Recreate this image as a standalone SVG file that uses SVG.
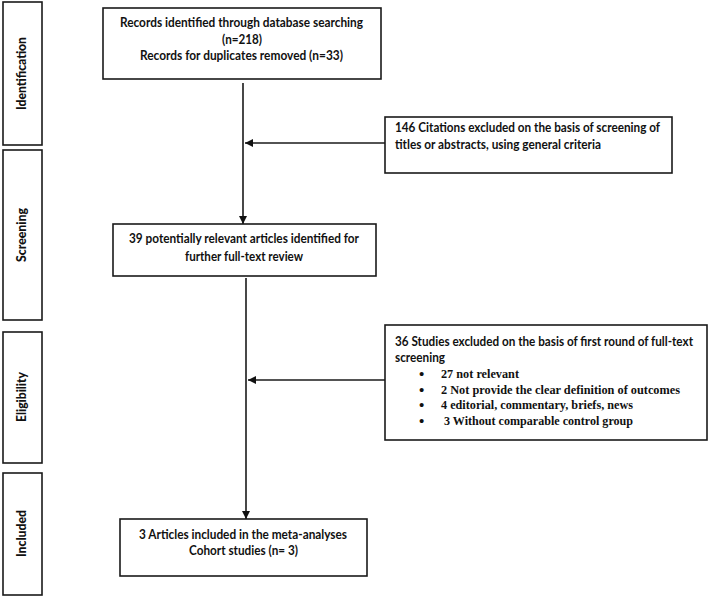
<svg xmlns="http://www.w3.org/2000/svg" width="709" height="597" viewBox="0 0 709 597">
<defs>
<style>
.box{fill:#fff;stroke:#1a1a1a;stroke-width:1.6}
.t{font-family:Lato,"Liberation Sans",sans-serif;font-weight:bold;font-size:12.3px;fill:#111}
.s{font-family:"Liberation Serif","Times New Roman",serif;font-weight:bold;font-size:12.5px;fill:#111}
.b{font-family:"Liberation Serif","Times New Roman",serif;font-weight:bold;font-size:15px;fill:#111}
.side{font-family:Lato,"Liberation Sans",sans-serif;font-weight:900;font-size:12.5px;fill:#111;text-anchor:middle}
.ln{fill:none;stroke:#1a1a1a;stroke-width:1.6}
</style>
<marker id="ah" viewBox="0 0 10 10" refX="10" refY="5" markerWidth="9" markerHeight="8" markerUnits="userSpaceOnUse" orient="auto"><path d="M0,0L10,5L0,10z" fill="#111"/></marker>
</defs>
<rect width="709" height="597" fill="#fff"/>
<g id="phase-identification"><rect class="box" x="3" y="2" width="39" height="143"/><text class="side" transform="translate(26,73.5) rotate(-90)" textLength="73" lengthAdjust="spacingAndGlyphs">Identification</text></g>
<g id="phase-screening"><rect class="box" x="3" y="150" width="39" height="170"/><text class="side" transform="translate(26,235) rotate(-90)" textLength="54" lengthAdjust="spacingAndGlyphs">Screening</text></g>
<g id="phase-eligibility"><rect class="box" x="3" y="332" width="39" height="131"/><text class="side" transform="translate(26,397) rotate(-90)" textLength="50" lengthAdjust="spacingAndGlyphs">Eligibility</text></g>
<g id="phase-included"><rect class="box" x="3" y="473" width="39" height="122"/><text class="side" transform="translate(26,533.5) rotate(-90)" textLength="47" lengthAdjust="spacingAndGlyphs">Included</text></g>
<g id="connectors">
<line class="ln" x1="243" y1="83" x2="243" y2="224" marker-end="url(#ah)"/>
<line class="ln" x1="385" y1="143" x2="245" y2="143" marker-end="url(#ah)"/>
<line class="ln" x1="246" y1="278" x2="246" y2="519" marker-end="url(#ah)"/>
<line class="ln" x1="385" y1="380" x2="248" y2="380" marker-end="url(#ah)"/>
</g>
<g id="records"><rect class="box" x="103" y="8" width="278" height="71"/>
<text class="t" x="120" y="27" textLength="243" lengthAdjust="spacingAndGlyphs">Records identified through database searching</text>
<text class="t" x="222" y="44" textLength="40" lengthAdjust="spacingAndGlyphs">(n=218)</text>
<text class="t" x="140" y="60" textLength="203" lengthAdjust="spacingAndGlyphs">Records for duplicates removed (n=33)</text></g>
<g id="excluded-citations"><rect class="box" x="385" y="117" width="287" height="56"/>
<text class="t" x="395" y="132" textLength="265" lengthAdjust="spacingAndGlyphs">146 Citations excluded on the basis of screening of</text>
<text class="t" x="395" y="149" textLength="206" lengthAdjust="spacingAndGlyphs">titles or abstracts, using general criteria</text></g>
<g id="full-text"><rect class="box" x="113" y="224" width="263" height="52"/>
<text class="t" x="129" y="243" textLength="230" lengthAdjust="spacingAndGlyphs">39 potentially relevant articles identified for</text>
<text class="t" x="185" y="261" textLength="118" lengthAdjust="spacingAndGlyphs">further full-text review</text></g>
<g id="excluded-studies"><rect class="box" x="385" y="325" width="322" height="115"/>
<text class="t" x="395" y="346" textLength="298" lengthAdjust="spacingAndGlyphs">36 Studies excluded on the basis of first round of full-text</text>
<text class="t" x="395" y="362" textLength="50" lengthAdjust="spacingAndGlyphs">screening</text>
<text class="b" x="419" y="379">•</text><text class="s" x="441" y="378" textLength="78" lengthAdjust="spacingAndGlyphs">27 not relevant</text>
<text class="b" x="419" y="395">•</text><text class="s" x="441" y="394" textLength="239" lengthAdjust="spacingAndGlyphs">2 Not provide the clear definition of outcomes</text>
<text class="b" x="419" y="410">•</text><text class="s" x="441" y="409" textLength="192" lengthAdjust="spacingAndGlyphs">4 editorial, commentary, briefs, news</text>
<text class="b" x="419" y="426">•</text><text class="s" x="444" y="425" textLength="189" lengthAdjust="spacingAndGlyphs">3 Without comparable control group</text></g>
<g id="included-articles"><rect class="box" x="120" y="519" width="247" height="57"/>
<text class="t" x="139" y="539" textLength="208" lengthAdjust="spacingAndGlyphs">3 Articles included in the meta-analyses</text>
<text class="t" x="189" y="555" textLength="109" lengthAdjust="spacingAndGlyphs">Cohort studies (n= 3)</text></g>
</svg>
